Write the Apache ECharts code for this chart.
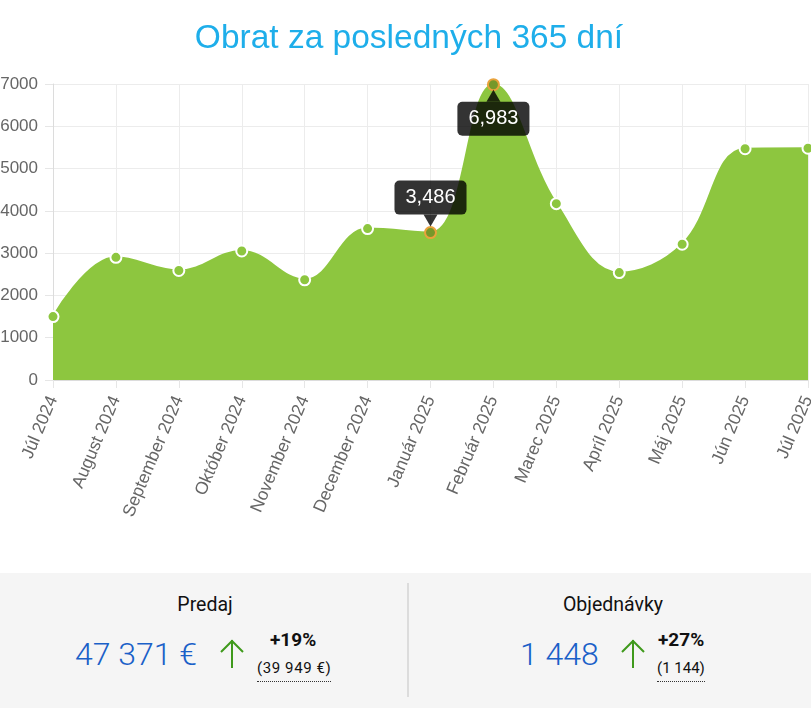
<!DOCTYPE html>
<html>
<head>
<meta charset="utf-8">
<script src="https://cdn.jsdelivr.net/npm/echarts@6/dist/echarts.min.js"></script>
<style>
    body { margin: 0; width: 811px; height: 708px; overflow: hidden; background: #fff; font-family: Roboto, "Liberation Sans", sans-serif; position: relative; }
    #chart { position: absolute; left: 0; top: 0; width: 830px; height: 570px; }
    #panel { position: absolute; left: 0; top: 573px; width: 811px; height: 135px; background: #f5f5f5; }
    #panel .t { position: absolute; white-space: nowrap; }
    .head { font-size: 19.5px; color: #111; top: 20px; transform: translateX(-50%); }
    .big { font-size: 32px; color: #1a60c8; top: 62px; font-weight: 300; }
    .pct { font-size: 19px; font-weight: bold; color: #111; top: 55px; }
    .prev { font-size: 15px; color: #111; top: 86px; border-bottom: 1px dotted #333; padding-bottom: 4px; }
    .divider { position: absolute; left: 407px; top: 10px; width: 2px; height: 114px; background: #dcdcdc; }
    .arrow { position: absolute; top: 66px; }
</style>
</head>
<body>
<div id="chart"></div>
<div id="panel">
    <div class="t head" style="left:205px">Predaj</div>
    <div class="t big" style="left:75px">47 371 €</div>
    <svg class="arrow" style="left:219px" width="26" height="30"><path d="M13 1 V29 M2 13 L13 2 L24 13" stroke="#3f9a1c" stroke-width="2" fill="none"/></svg>
    <div class="t pct" style="left:270px">+19%</div>
    <div class="t prev" style="left:257px; letter-spacing:0.6px">(39 949 €)</div>

    <div class="divider"></div>

    <div class="t head" style="left:613px">Objednávky</div>
    <div class="t big" style="left:520px">1 448</div>
    <svg class="arrow" style="left:620px" width="26" height="30"><path d="M13 1 V29 M2 13 L13 2 L24 13" stroke="#3f9a1c" stroke-width="2" fill="none"/></svg>
    <div class="t pct" style="left:658px">+27%</div>
    <div class="t prev" style="left:657px">(1 144)</div>
</div>
<script>
// Dáta grafu
var mesiace = ["Júl 2024", "August 2024", "September 2024", "Október 2024", "November 2024", "December 2024",
    "Január 2025", "Február 2025", "Marec 2025", "Apríl 2025", "Máj 2025", "Jún 2025", "Júl 2025"];
var obrat = [1500, 2900, 2590, 3050, 2370, 3580, 3486, 6983, 4170, 2540, 3210, 5470, 5480];
var zvyraznene = [6, 7]; // body s otvorenou bublinou
var osY = { min: 0, max: 7000, krok: 1000 };

var zelena = "#8dc63f";
var tmava = "rgba(0,0,0,0.8)";

function formatCislo(v) {
    return String(v).replace(/\B(?=(\d{3})+(?!\d))/g, ",");
}

var data = obrat.map(function (v, i) {
    if (zvyraznene.indexOf(i) >= 0) {
        return { value: v, itemStyle: { color: "#76982a", borderColor: "#e9a23b" } };
    }
    return v;
});

// bublina: trojuholník + label s pozadím
var markBody = zvyraznene.map(function (i, k) {
    var hore = k === 1;
    return {
        coord: [mesiace[i], obrat[i]],
        value: obrat[i],
        symbol: "triangle",
        symbolSize: [14, 12],
        symbolRotate: hore ? 0 : 180,
        symbolOffset: [0, hore ? 11 : -12],
        label: { position: hore ? "bottom" : "top", distance: 0 }
    };
});

var myChart = echarts.init(document.getElementById("chart"));
myChart.setOption({
    animation: false,
    title: {
        text: "Obrat za posledných 365 dní",
        left: 404,
        textAlign: "center",
        top: 17,
        textStyle: { fontSize: 33.5, fontWeight: "normal", color: "#1eaeea", fontFamily: "Liberation Sans" }
    },
    grid: { left: 53, right: 22, top: 84, height: 296, outerBoundsMode: "none", containLabel: false },
    xAxis: {
        type: "category",
        data: mesiace,
        boundaryGap: false,
        axisLine: { lineStyle: { color: "#dcdcdc" } },
        axisTick: { show: true, length: 8, lineStyle: { color: "#e6e6e6" } },
        splitLine: { show: true, lineStyle: { color: "#ececec" } },
        axisLabel: { rotate: 67, fontSize: 17.5, color: "#666", fontFamily: "Liberation Sans", margin: 17, interval: 0 }
    },
    yAxis: {
        type: "value",
        min: osY.min,
        max: osY.max,
        interval: osY.krok,
        axisLine: { show: true, lineStyle: { color: "#dcdcdc" } },
        axisTick: { show: true, length: 8, lineStyle: { color: "#e6e6e6" } },
        splitLine: { lineStyle: { color: "#ececec" } },
        axisLabel: { fontSize: 17, color: "#666", fontFamily: "Liberation Sans", margin: 15, formatter: function (v) { return String(v); } }
    },
    series: [{
        type: "line",
        data: data,
        smooth: 0.4,
        clip: false,
        symbol: "circle",
        symbolSize: 11,
        itemStyle: { color: zelena, borderColor: "#fff", borderWidth: 2 },
        lineStyle: { color: zelena, width: 2 },
        areaStyle: { color: zelena, opacity: 1 },
        markPoint: {
            data: markBody,
            itemStyle: { color: tmava, borderWidth: 0 },
            label: {
                show: true,
                color: "#fff",
                fontSize: 20,
                lineHeight: 22,
                fontFamily: "Liberation Sans",
                backgroundColor: tmava,
                borderRadius: 5,
                padding: [6, 11],
                formatter: function (p) { return formatCislo(p.value); }
            }
        }
    }]
});
</script>
</body>
</html>
